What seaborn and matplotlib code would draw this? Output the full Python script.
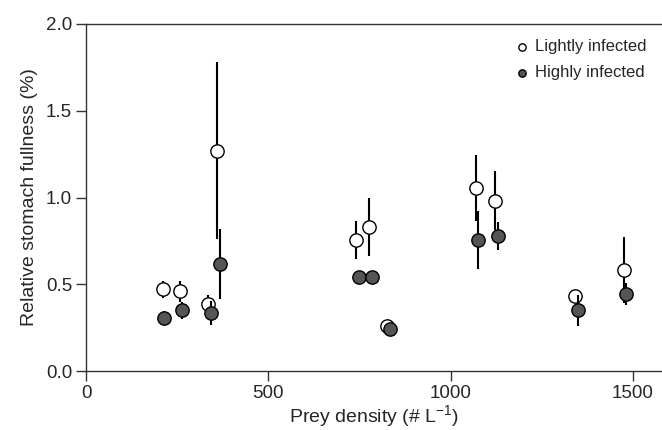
import numpy as np
import pandas as pd
import matplotlib
matplotlib.use("Agg")
import matplotlib.pyplot as plt
import seaborn as sns

# --- values ---
density_light = [210, 258, 335, 360, 741, 776, 826, 1069, 1123, 1341, 1475]
fullness_light = [0.47, 0.46, 0.386, 1.27, 0.755, 0.83, 0.26, 1.053, 0.98, 0.434, 0.582]
err_light = [0.05, 0.06, 0.05, 0.51, 0.11, 0.165, 0.02, 0.19, 0.17, 0.03, 0.19]

density_heavy = [215, 262, 342, 367, 749, 784, 833, 1076, 1131, 1349, 1481]
fullness_heavy = [0.305, 0.35, 0.333, 0.617, 0.544, 0.544, 0.242, 0.755, 0.778, 0.35, 0.444]
err_heavy = [0.04, 0.05, 0.07, 0.2, 0.03, 0.02, 0.02, 0.165, 0.08, 0.09, 0.065]

x_ticks = [0, 500, 1000, 1500]
y_ticks = [0.0, 0.5, 1.0, 1.5, 2.0]

sns.set_style("ticks")
plt.rcParams['font.family'] = ['Liberation Sans', 'DejaVu Sans']
plt.rcParams['mathtext.fontset'] = 'custom'
plt.rcParams['mathtext.rm'] = 'Liberation Sans'
plt.rcParams['mathtext.it'] = 'Liberation Sans:italic'

df_light = pd.DataFrame({"density": density_light, "fullness": fullness_light, "err": err_light})
df_heavy = pd.DataFrame({"density": density_heavy, "fullness": fullness_heavy, "err": err_heavy})

fig = plt.figure(figsize=(6.62, 4.30), dpi=100)
ax = fig.add_axes([86 / 662, 1 - 371 / 430, 576 / 662, 347 / 430])

# lightly infected: bars then open circles
ax.errorbar(df_light["density"], df_light["fullness"], yerr=df_light["err"],
            fmt="none", ecolor="black", elinewidth=1.5, capsize=0, zorder=2)
sns.scatterplot(data=df_light, x="density", y="fullness", ax=ax, s=92,
                color="white", edgecolor="black", linewidth=1.0,
                label="Lightly infected", zorder=3)

# highly infected: bars then grey circles
ax.errorbar(df_heavy["density"], df_heavy["fullness"], yerr=df_heavy["err"],
            fmt="none", ecolor="black", elinewidth=1.5, capsize=0, zorder=4)
sns.scatterplot(data=df_heavy, x="density", y="fullness", ax=ax, s=92,
                color="#555555", edgecolor="black", linewidth=1.0,
                label="Highly infected", zorder=5)

ax.set_xlim(0, 1580)
ax.set_ylim(0, 2.0)
ax.set_xticks(x_ticks)
ax.set_yticks(y_ticks)
ax.set_yticklabels([f"{v:.1f}" for v in y_ticks])
ax.tick_params(labelsize=13.5, length=7, width=1, color="#333333", pad=3)

for side in ["left", "bottom", "top"]:
    ax.spines[side].set_visible(True)
    ax.spines[side].set_color("#333333")
    ax.spines[side].set_linewidth(1.0)
ax.spines["right"].set_visible(False)

ax.set_xlabel("Prey density (# L$^{-1}$)", fontsize=14, labelpad=1)
ax.set_ylabel("Relative stomach fullness (%)", fontsize=14, labelpad=6)

leg = ax.legend(loc="upper right", bbox_to_anchor=(1.0, 1.0), frameon=False,
                fontsize=12, markerscale=0.55, handlelength=1.0,
                handletextpad=0.3, labelspacing=0.68)

fig.savefig("out.png", dpi=100)
